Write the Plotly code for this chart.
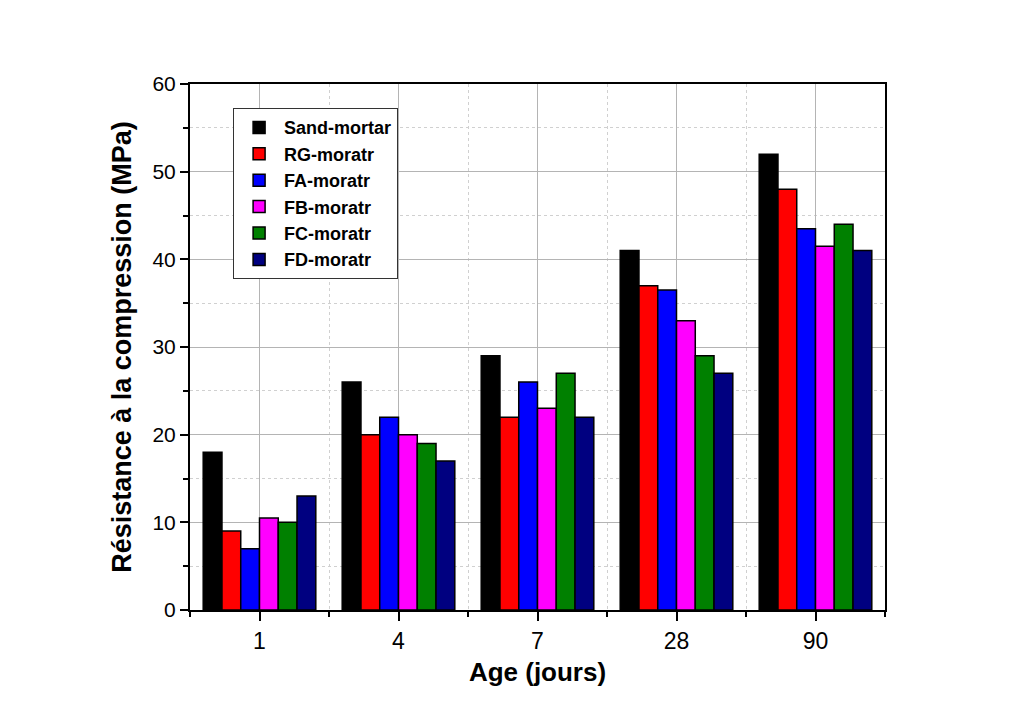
import plotly.graph_objects as go

ages = ["1", "4", "7", "28", "90"]
series_names = ["Sand-mortar", "RG-moratr", "FA-moratr", "FB-moratr", "FC-moratr", "FD-moratr"]
sand = [18, 26, 29, 41, 52]
rg = [9, 20, 22, 37, 48]
fa = [7, 22, 26, 36.5, 43.5]
fb = [10.5, 20, 23, 33, 41.5]
fc = [10, 19, 27, 29, 44]
fd = [13, 17, 22, 27, 41]
colors = ["#000000", "#ff0000", "#0000ff", "#ff00ff", "#008000", "#000080"]

values = [sand, rg, fa, fb, fc, fd]
xpos = list(range(len(ages)))

fig = go.Figure()
for name, vals, col in zip(series_names, values, colors):
    fig.add_trace(go.Bar(
        x=xpos, y=vals, name=name,
        marker=dict(color=col, line=dict(color="black", width=1.5)),
    ))

narrow = "Liberation Sans Narrow, Arial Narrow, Liberation Sans, Arial, sans-serif"

fig.update_layout(
    barmode="group",
    bargap=0.19,
    bargroupgap=0,
    width=1014, height=723,
    paper_bgcolor="white", plot_bgcolor="white",
    margin=dict(l=182, r=137, t=76, b=121),
    font=dict(family="Liberation Sans, Arial, sans-serif", color="black"),
    legend=dict(
        x=0.062, y=0.954, xanchor="left", yanchor="top",
        bordercolor="#333333", borderwidth=1, bgcolor="white",
        font=dict(size=18, family="Liberation Sans, Arial, sans-serif", weight="bold"),
        tracegroupgap=0, itemwidth=40,
    ),
    xaxis=dict(
        range=[-0.5, len(ages) - 0.5],
        tickmode="array", tickvals=xpos, ticktext=ages,
        ticks="outside", ticklen=9, tickwidth=2, tickcolor="black",
        showline=True, linecolor="black", linewidth=2, mirror=True,
        showgrid=True, gridcolor="#b4b4b4", gridwidth=1,
        tickfont=dict(size=23, family=narrow),
        minor=dict(tickmode="linear", tick0=0.5, dtick=1, ticks="outside", ticklen=5,
                   tickwidth=2, tickcolor="black", showgrid=True,
                   gridcolor="#d0d0d0", griddash="dot", gridwidth=1),
        title=dict(text="<b>Age (jours)</b>", font=dict(size=26), standoff=10),
        zeroline=False,
    ),
    yaxis=dict(
        range=[0, 60],
        tickmode="linear", tick0=0, dtick=10,
        ticks="outside", ticklen=8, tickwidth=2, tickcolor="black",
        showline=True, linecolor="black", linewidth=2, mirror=True,
        showgrid=True, gridcolor="#b4b4b4", gridwidth=1,
        tickfont=dict(size=21, family=narrow),
        minor=dict(tickmode="linear", tick0=5, dtick=10, ticks="outside", ticklen=5,
                   tickwidth=2, tickcolor="black", showgrid=True,
                   gridcolor="#d0d0d0", griddash="dot", gridwidth=1),
        title=dict(text="<b>Résistance à la compression (MPa)</b>", font=dict(size=27), standoff=13),
        zeroline=False,
    ),
)

fig.write_html("out.html")
